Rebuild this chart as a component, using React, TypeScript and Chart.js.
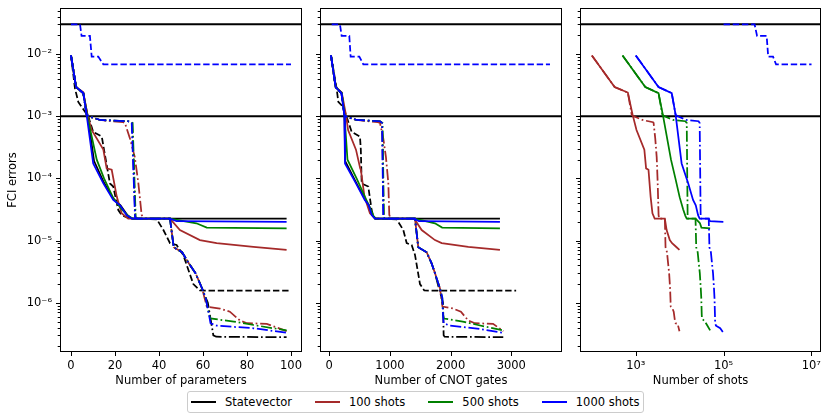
import { useEffect, useRef } from "react";
import { Chart, registerables } from "chart.js";

Chart.register(...registerables);

// axis ticks
const paramTicks = [0, 20, 40, 60, 80, 100];
const cnotTicks = [0, 1000, 2000, 3000];
const shotTicks = [1e3, 1e5, 1e7];
const errMajorTicks = [1e-2, 1e-3, 1e-4, 1e-5, 1e-6];
const minorSteps = [2, 3, 4, 5, 6, 7, 8, 9];
const thresholds = [3.0e-2, 1.0e-3];

// shots per evaluation (x of the last panel = shots * step)
const shots100 = 100;
const shots500 = 500;
const shots1000 = 1000;
const shotsBlueDashed = 1e5;

// Statevector, solid
const svSolidParams = [0, 2.3, 5.6, 7.5, 10.5, 15, 19.5, 22.5, 25.5, 27.6, 98];
const svSolidCnots = [28, 105, 205, 250, 262, 445, 590, 655, 705, 753, 2813];
const svSolidErrs = [9.5e-3, 2.95e-3, 2.3e-3, 1.05e-3, 1.9e-4, 8.5e-5, 4.6e-5, 3.7e-5, 2.6e-5, 2.26e-5, 2.26e-5];

// Statevector, dashed
const svDashedParams = [0, 1.8, 3.3, 4.9, 7.9, 10.1, 14, 15, 17.7, 19.2, 21.5, 23, 26.8, 39, 42, 45, 48, 51, 55.6, 58.6, 62.4, 100];
const svDashedCnots = [28, 121, 149, 231, 286, 369, 506, 520, 534, 643, 698, 720, 760, 1111, 1220, 1276, 1358, 1413, 1495, 1566, 1650, 3080];
const svDashedErrs = [9.5e-3, 2.8e-3, 1.7e-3, 1.4e-3, 9.8e-4, 5.6e-4, 4.7e-4, 2.9e-4, 8.3e-5, 7.4e-5, 3.1e-5, 2.57e-5, 2.26e-5, 2.2e-5, 1.48e-5, 9.1e-6, 8.5e-6, 5.9e-6, 2.0e-6, 1.58e-6, 1.57e-6, 1.57e-6];

// Statevector, dash-dot
const svDashDotParams = [0, 2.3, 5.6, 7.1, 8.6, 13.2, 26, 27.8, 29.2, 30, 45, 46.7, 50.5, 53.6, 56.6, 59.6, 62.2, 64.7, 66, 98];
const svDashDotCnots = [28, 105, 200, 248, 286, 451, 836, 872, 895, 910, 1413, 1467, 1605, 1687, 1742, 1808, 1875, 1885, 1900, 2868];
const svDashDotErrs = [9.5e-3, 2.95e-3, 2.35e-3, 1.05e-3, 9.8e-4, 8.7e-4, 8.3e-4, 7.8e-4, 2.4e-5, 2.26e-5, 2.25e-5, 7.8e-6, 6.5e-6, 4.3e-6, 3.0e-6, 1.7e-6, 1.0e-6, 3.0e-7, 2.85e-7, 2.8e-7];

// 100 shots, solid
const s100SolidParams = [0, 2.3, 5.6, 7.5, 9.4, 14.7, 16.2, 18.5, 20.8, 23, 26, 45, 49.5, 58.6, 66.2, 82.9, 98];
const s100SolidCnots = [28, 105, 205, 275, 310, 440, 510, 520, 580, 670, 760, 1400, 1523, 1742, 1853, 2291, 2813];
const s100SolidErrs = [9.5e-3, 2.95e-3, 2.4e-3, 1.05e-3, 6.0e-4, 2.9e-4, 1.45e-4, 1.38e-4, 5.1e-5, 2.75e-5, 2.26e-5, 2.25e-5, 1.48e-5, 1.02e-5, 9.1e-6, 7.9e-6, 7.1e-6];

// 100 shots, dash-dot
const s100DashDotParams = [0, 2.3, 5.6, 7.1, 8.6, 13.2, 23.8, 24.5, 26.8, 29, 30.6, 32.1, 33, 45, 46.7, 50.5, 53.6, 56.6, 59.6, 61.7, 67.7, 72.2, 76.8, 80, 89, 98];
const s100DashDotCnots = [28, 105, 205, 250, 286, 451, 800, 836, 890, 934, 973, 989, 1010, 1413, 1467, 1605, 1687, 1742, 1825, 1865, 2040, 2170, 2290, 2400, 2700, 2868];
const s100DashDotErrs = [9.5e-3, 2.95e-3, 2.4e-3, 1.05e-3, 9.8e-4, 8.7e-4, 8.0e-4, 7.8e-4, 4.4e-4, 2.2e-4, 8.5e-5, 2.6e-5, 2.26e-5, 2.25e-5, 7.8e-6, 6.5e-6, 4.3e-6, 3.0e-6, 1.7e-6, 8.7e-7, 8.1e-7, 7.2e-7, 5.2e-7, 4.7e-7, 4.6e-7, 3.5e-7];

// 500 shots, solid
const s500SolidParams = [0, 2.3, 5.6, 7.3, 11.7, 15, 19, 23, 26, 28, 45, 50, 57, 61.7, 98];
const s500SolidCnots = [28, 105, 205, 250, 300, 450, 590, 680, 730, 760, 1400, 1550, 1742, 1860, 2813];
const s500SolidErrs = [9.5e-3, 2.95e-3, 2.35e-3, 1.05e-3, 2.0e-4, 1.0e-4, 5.0e-5, 3.2e-5, 2.5e-5, 2.26e-5, 2.25e-5, 2.1e-5, 1.9e-5, 1.62e-5, 1.58e-5];

// 500 shots, dash-dot
const s500DashDotParams = [0, 2.3, 5.6, 7.1, 8.6, 13.2, 26, 28, 29.4, 30, 45, 46.7, 50.5, 53.6, 56.6, 59.6, 61.2, 62.7, 63.4, 74, 83, 98];
const s500DashDotCnots = [28, 105, 205, 250, 286, 451, 836, 878, 900, 912, 1413, 1467, 1605, 1687, 1742, 1825, 1863, 1875, 1890, 2200, 2450, 2868];
const s500DashDotErrs = [9.5e-3, 2.95e-3, 2.35e-3, 1.05e-3, 9.8e-4, 8.7e-4, 8.3e-4, 7.8e-4, 2.4e-5, 2.26e-5, 2.25e-5, 7.8e-6, 6.5e-6, 4.3e-6, 3.0e-6, 1.7e-6, 1.2e-6, 6.5e-7, 5.6e-7, 5.0e-7, 4.4e-7, 3.6e-7];

// 1000 shots, solid
const s1000SolidParams = [0, 2.3, 5.6, 7.1, 10.1, 14.7, 19.2, 22.3, 25.3, 27.6, 45, 48, 98];
const s1000SolidCnots = [28, 105, 200, 248, 259, 440, 585, 650, 700, 753, 1400, 1480, 2813];
const s1000SolidErrs = [9.5e-3, 2.95e-3, 2.35e-3, 1.05e-3, 1.74e-4, 8.3e-5, 4.5e-5, 3.7e-5, 2.57e-5, 2.26e-5, 2.25e-5, 2.05e-5, 2.0e-5];

// 1000 shots, dashed
const s1000DashedParams = [0, 4.1, 4.8, 8.6, 9.4, 12.4, 14.7, 100];
const s1000DashedCnots = [40, 176, 204, 330, 352, 495, 561, 3638];
const s1000DashedErrs = [3.0e-2, 3.0e-2, 1.95e-2, 1.95e-2, 9.1e-3, 9.1e-3, 6.8e-3, 6.8e-3];

// 1000 shots, dash-dot
const s1000DashDotParams = [0, 2.3, 5.6, 7.1, 8.6, 13.2, 26, 27.6, 29.1, 30, 45, 46.7, 50.5, 53.6, 56.6, 59.6, 61.2, 62.7, 63.4, 66.2, 82.9, 98];
const s1000DashDotCnots = [28, 105, 200, 248, 286, 451, 836, 870, 890, 910, 1413, 1467, 1605, 1687, 1742, 1825, 1863, 1875, 1885, 1990, 2400, 2868];
const s1000DashDotErrs = [9.5e-3, 2.95e-3, 2.35e-3, 1.05e-3, 9.8e-4, 8.7e-4, 8.3e-4, 7.8e-4, 2.4e-5, 2.26e-5, 2.25e-5, 7.8e-6, 6.5e-6, 4.3e-6, 3.0e-6, 1.7e-6, 1.2e-6, 6.5e-7, 4.7e-7, 4.3e-7, 3.9e-7, 3.3e-7];

const BLACK = "#000000";
const BROWN = "#a52a2a";
const GREEN = "#008000";
const BLUE = "#0000ff";

const DASHED = [6.4, 2.8];
const DASHDOT = [11, 2.8, 1.7, 2.8];

type Series = {
  params: number[];
  cnots: number[];
  errs: number[];
  color: string;
  dash: number[];
  shots: number | null;
};

// matplotlib plotting order (last on top)
const series: Series[] = [
  { params: svSolidParams, cnots: svSolidCnots, errs: svSolidErrs, color: BLACK, dash: [], shots: null },
  { params: svDashedParams, cnots: svDashedCnots, errs: svDashedErrs, color: BLACK, dash: DASHED, shots: null },
  { params: svDashDotParams, cnots: svDashDotCnots, errs: svDashDotErrs, color: BLACK, dash: DASHDOT, shots: null },
  { params: s100SolidParams, cnots: s100SolidCnots, errs: s100SolidErrs, color: BROWN, dash: [], shots: shots100 },
  { params: s100DashDotParams, cnots: s100DashDotCnots, errs: s100DashDotErrs, color: BROWN, dash: DASHDOT, shots: shots100 },
  { params: s500SolidParams, cnots: s500SolidCnots, errs: s500SolidErrs, color: GREEN, dash: [], shots: shots500 },
  { params: s500DashDotParams, cnots: s500DashDotCnots, errs: s500DashDotErrs, color: GREEN, dash: DASHDOT, shots: shots500 },
  { params: s1000SolidParams, cnots: s1000SolidCnots, errs: s1000SolidErrs, color: BLUE, dash: [], shots: shots1000 },
  { params: s1000DashedParams, cnots: s1000DashedCnots, errs: s1000DashedErrs, color: BLUE, dash: DASHED, shots: shotsBlueDashed },
  { params: s1000DashDotParams, cnots: s1000DashDotCnots, errs: s1000DashDotErrs, color: BLUE, dash: DASHDOT, shots: shots1000 },
];

const legendItems = [
  { label: "Statevector", color: BLACK },
  { label: "100 shots", color: BROWN },
  { label: "500 shots", color: GREEN },
  { label: "1000 shots", color: BLUE },
];

const Y_MIN = 1.62e-7;
const Y_MAX = 5.49e-2;
const FONT = { family: "DejaVu Sans", size: 11.5 };

const SUP: Record<string, string> = {
  "-": "\u207b", "0": "\u2070", "1": "\u00b9", "2": "\u00b2", "3": "\u00b3",
  "4": "\u2074", "5": "\u2075", "6": "\u2076", "7": "\u2077", "8": "\u2078", "9": "\u2079",
};

function pow10Label(v: number) {
  const e = String(Math.round(Math.log10(v)));
  return "10" + e.split("").map((c) => SUP[c] ?? c).join("");
}

function buildYTicks() {
  const ticks: { value: number; major: boolean }[] = [];
  for (let k = -7; k <= -1; k++) {
    const base = Math.pow(10, k);
    if (base >= Y_MIN && base <= Y_MAX) ticks.push({ value: base, major: errMajorTicks.includes(base) });
    for (const m of minorSteps) {
      const v = m * base;
      if (v >= Y_MIN && v <= Y_MAX) ticks.push({ value: v, major: false });
    }
  }
  return ticks;
}

function clearPadding(axis: any) {
  axis.paddingTop = 0;
  axis.paddingBottom = 0;
  axis.paddingLeft = 0;
  axis.paddingRight = 0;
}

const framePlugin = {
  id: "frameAndTicks",
  beforeDatasetsDraw(chart: any) {
    const { ctx, chartArea: a, scales } = chart;
    ctx.save();
    ctx.strokeStyle = BLACK;
    ctx.lineWidth = 2;
    for (const t of thresholds) {
      const py = scales.y.getPixelForValue(t);
      ctx.beginPath();
      ctx.moveTo(a.left, py);
      ctx.lineTo(a.right, py);
      ctx.stroke();
    }
    ctx.restore();
  },
  afterDraw(chart: any) {
    const { ctx, chartArea: a, scales } = chart;
    ctx.save();
    ctx.strokeStyle = BLACK;
    ctx.lineWidth = 1;
    for (const t of scales.x.ticks) {
      const px = Math.round(scales.x.getPixelForValue(t.value)) + 0.5;
      ctx.beginPath();
      ctx.moveTo(px, a.bottom);
      ctx.lineTo(px, a.bottom + 4);
      ctx.stroke();
    }
    for (const t of scales.y.ticks) {
      const py = Math.round(scales.y.getPixelForValue(t.value)) + 0.5;
      const len = t.major ? 4 : 2.3;
      ctx.beginPath();
      ctx.moveTo(a.left - len, py);
      ctx.lineTo(a.left, py);
      ctx.stroke();
    }
    ctx.strokeRect(Math.round(a.left) + 0.5, Math.round(a.top) + 0.5, Math.round(a.right - a.left) - 1, Math.round(a.bottom - a.top) - 1);
    ctx.restore();
  },
};

type PanelKind = "params" | "cnots" | "shots";

const panels: { kind: PanelKind; left: number; width: number }[] = [
  { kind: "params", left: 0, width: 312 },
  { kind: "cnots", left: 312, width: 260 },
  { kind: "shots", left: 572, width: 259 },
];

function makeDatasets(kind: PanelKind) {
  const list = series
    .filter((s) => kind !== "shots" || s.shots !== null)
    .map((s) => ({
      data: s.params.map((p, i) => ({
        x: kind === "params" ? p : kind === "cnots" ? s.cnots[i] : (s.shots as number) * (p + 1),
        y: s.errs[i],
      })),
      showLine: true,
      borderColor: s.color,
      borderWidth: 1.75,
      borderDash: s.dash,
      pointRadius: 0,
      fill: false,
      tension: 0,
    }));
  return list.reverse();
}

function makeConfig(kind: PanelKind): any {
  const xScale: any = {
    grid: { display: false, drawTicks: false },
    border: { display: false },
    ticks: { padding: 7, font: FONT, color: BLACK, autoSkip: false, maxRotation: 0 },
    title: { display: true, font: FONT, color: BLACK, padding: { top: 0, bottom: 4 } },
    afterFit: (axis: any) => {
      axis.height = 40;
      clearPadding(axis);
    },
  };
  if (kind === "params") {
    Object.assign(xScale, { type: "linear", min: -5, max: 105 });
    xScale.title.text = "Number of parameters";
    xScale.afterBuildTicks = (axis: any) => {
      axis.ticks = paramTicks.map((v) => ({ value: v }));
    };
    xScale.ticks.callback = (v: number) => String(v);
  } else if (kind === "cnots") {
    Object.assign(xScale, { type: "linear", min: -153, max: 3836 });
    xScale.title.text = "Number of CNOT gates";
    xScale.afterBuildTicks = (axis: any) => {
      axis.ticks = cnotTicks.map((v) => ({ value: v }));
    };
    xScale.ticks.callback = (v: number) => String(v);
  } else {
    Object.assign(xScale, { type: "logarithmic", min: 53.7, max: 1.66e7 });
    xScale.title.text = "Number of shots";
    xScale.afterBuildTicks = (axis: any) => {
      axis.ticks = shotTicks.map((v) => ({ value: v }));
    };
    xScale.ticks.callback = (v: number) => pow10Label(v);
  }

  const showY = kind === "params";
  const yScale: any = {
    type: "logarithmic",
    min: Y_MIN,
    max: Y_MAX,
    grid: { display: false, drawTicks: false },
    border: { display: false },
    ticks: {
      display: showY,
      padding: 8,
      font: FONT,
      color: BLACK,
      autoSkip: false,
      callback: (v: number, i: number, ticks: any[]) => (ticks[i] && ticks[i].major ? pow10Label(v) : ""),
    },
    title: { display: showY, text: "FCI errors", font: FONT, color: BLACK, padding: { top: 6, bottom: 0 } },
    afterBuildTicks: (axis: any) => {
      axis.ticks = buildYTicks();
    },
    afterFit: (axis: any) => {
      axis.width = showY ? 60 : 8;
      clearPadding(axis);
    },
  };

  return {
    type: "scatter",
    data: { datasets: makeDatasets(kind) },
    options: {
      animation: false,
      responsive: true,
      maintainAspectRatio: false,
      layout: { padding: { top: 8, right: 10, left: 0, bottom: 0 } },
      plugins: { legend: { display: false }, tooltip: { enabled: false } },
      scales: { x: xScale, y: yScale },
    },
    plugins: [framePlugin],
  };
}

function Panel({ kind, left, width }: { kind: PanelKind; left: number; width: number }) {
  const canvasRef = useRef<HTMLCanvasElement>(null);

  useEffect(() => {
    if (!canvasRef.current) return;
    const chart = new Chart(canvasRef.current, makeConfig(kind));
    return () => {
      chart.destroy();
    };
  }, [kind]);

  return (
    <div style={{ position: "absolute", left, top: 0, width, height: 392 }}>
      <canvas ref={canvasRef}></canvas>
    </div>
  );
}

export default function App() {
  return (
    <div
      style={{
        position: "absolute",
        left: 0,
        top: 0,
        width: 831,
        height: 418,
        overflow: "hidden",
        background: "#ffffff",
        fontFamily: "DejaVu Sans",
      }}
    >
      {panels.map((p) => (
        <Panel key={p.kind} kind={p.kind} left={p.left} width={p.width} />
      ))}
      <div
        style={{
          position: "absolute",
          left: 187,
          top: 391,
          height: 20,
          padding: "0 3px",
          border: "1px solid #cccccc",
          borderRadius: 3,
          display: "flex",
          alignItems: "center",
          gap: 23,
          fontSize: 11.5,
          color: BLACK,
          background: "#ffffff",
          whiteSpace: "nowrap",
        }}
      >
        {legendItems.map((item) => (
          <span key={item.label} style={{ display: "flex", alignItems: "center" }}>
            <span style={{ width: 25, height: 0, borderTop: `2px solid ${item.color}`, marginRight: 9 }} />
            {item.label}
          </span>
        ))}
      </div>
    </div>
  );
}
